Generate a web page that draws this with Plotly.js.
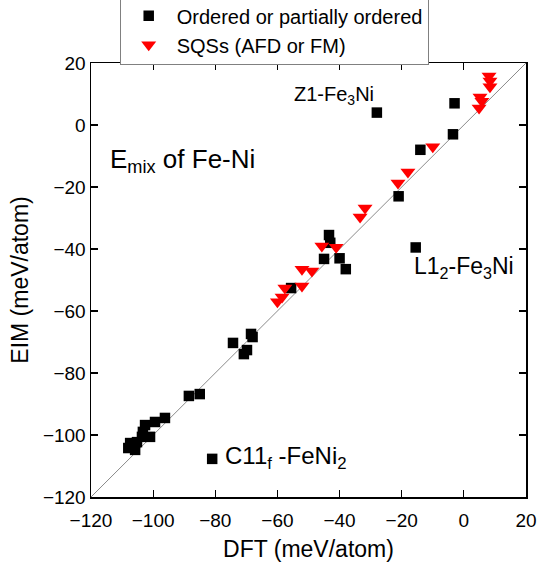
<!DOCTYPE html>
<html><head><meta charset="utf-8">
<script src="https://cdn.plot.ly/plotly-3.0.1.min.js"></script>
<style>body{margin:0;background:#fff;} #chart{width:548px;height:568px;}</style>
</head><body><div id="chart"></div>
<script>
// Ordered or partially ordered structures (DFT, EIM) in meV/atom
const orderedDFT = [-28, -3, -3.5, -14, -21, -15.5, -43.4, -43, -45, -40, -38, -55.6,
  -68.5, -68, -74.3, -69.8, -70.8, -88.5, -85, -96.2, -99.4, -102.6, -103.3, -103.6,
  -101, -107.4, -108, -105.8, -105.2, -81];
const orderedEIM = [4, 7, -3, -8, -23, -39.5, -35.5, -38, -43.2, -43, -46.5, -52.6,
  -67.4, -68.4, -70.3, -72.6, -73.9, -87.4, -86.8, -94.5, -95.8, -96.8, -99, -100.6,
  -100.6, -102.6, -104.2, -104.8, -102.3, -107.7];
// SQSs (AFD or FM)
const sqsDFT = [8.1, 8.4, 8.4, 5.2, 5.8, 4.9, -10, -18, -21.2, -31.8, -33.4, -45.7, -41.1,
  -52.1, -48.9, -52.1, -57.6, -60, -58.5];
const sqsEIM = [15.8, 14.2, 12.3, 9.0, 7.7, 5.5, -7, -15.2, -18.7, -26.8, -29.7, -39, -39.4,
  -46.5, -47.1, -51.9, -52.6, -57, -55.5];
const diagLine = [-120, 20];
const tickVals = [-120, -100, -80, -60, -40, -20, 0, 20];
const seriesNames = ['Ordered or partially ordered', 'SQSs (AFD or FM)'];
const labels = [
  {text: 'Z1-Fe<sub>3</sub>Ni', x: -55.3, y: 9.4},
  {text: 'E<sub>mix</sub> of Fe-Ni', x: -114.5, y: -11.3},
  {text: 'L1<sub>2</sub>-Fe<sub>3</sub>Ni', x: -16.7, y: -46.1},
  {text: 'C11<sub>f</sub>&nbsp;-FeNi<sub>2</sub>', x: -77.4, y: -107.4}
];
const labelSizes = [20, 26, 23, 24];

const FONT = 'Liberation Sans, Arial, sans-serif';
const traces = [
  {x: diagLine, y: diagLine, mode: 'lines', line: {color: '#8a8a8a', width: 1},
   showlegend: false, hoverinfo: 'skip'},
  {x: orderedDFT, y: orderedEIM, mode: 'markers', name: seriesNames[0],
   marker: {symbol: 'square', size: 10.5, color: '#000000'}},
  {x: sqsDFT, y: sqsEIM, mode: 'markers', name: seriesNames[1],
   marker: {symbol: 'triangle-down', size: 13, color: '#ff0000'}}
];
const axisCommon = {
  range: [-120, 20], tickvals: tickVals, ticks: 'inside', ticklen: 7, tickwidth: 1.2,
  tickcolor: '#000', showline: true, linecolor: '#000', linewidth: 1.5, mirror: 'ticks',
  showgrid: false, zeroline: false, tickfont: {family: FONT, size: 19, color: '#000'}
};
const layout = {
  width: 548, height: 568,
  margin: {l: 91, r: 22, t: 63, b: 71, autoexpand: false},
  paper_bgcolor: '#fff', plot_bgcolor: '#fff',
  font: {family: FONT, color: '#000'},
  xaxis: Object.assign({}, axisCommon, {ticklabelstandoff: 6,
    title: {text: 'DFT (meV/atom)', font: {family: FONT, size: 23}, standoff: 10}}),
  yaxis: Object.assign({}, axisCommon, {
    title: {text: 'EIM (meV/atom)', font: {family: FONT, size: 23}, standoff: 8}}),
  legend: {x: 0.066, y: 1.156, xanchor: 'left', yanchor: 'top', bgcolor: '#fff', itemwidth: 46,
    bordercolor: '#808080', borderwidth: 1, font: {family: FONT, size: 20, color: '#000'}},
  annotations: labels.map((l, i) => ({text: l.text, x: l.x, y: l.y, xref: 'x', yref: 'y',
    xanchor: 'left', yanchor: 'middle', showarrow: false, font: {family: FONT, size: labelSizes[i], color: '#000'}}))
};
Plotly.newPlot('chart', traces, layout, {displayModeBar: false, staticPlot: true});
</script>
</body></html>
